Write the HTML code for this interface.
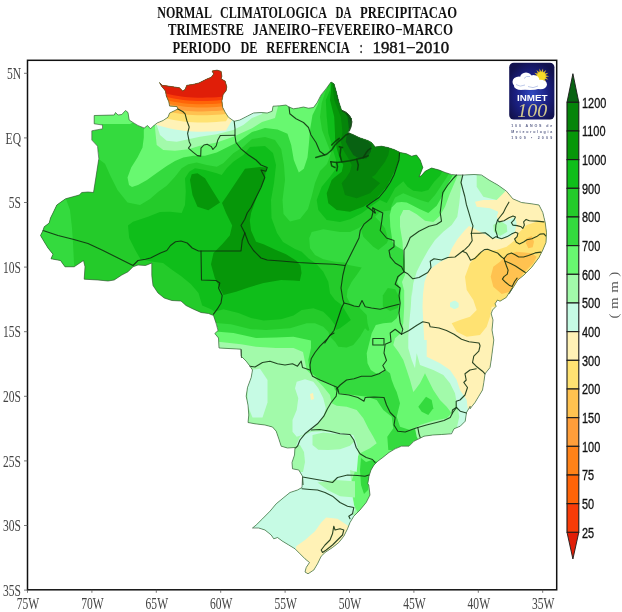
<!DOCTYPE html>
<html><head><meta charset="utf-8"><title>Normal Climatologica da Precipitacao</title>
<style>html,body{margin:0;padding:0;background:#fff;}body{width:622px;height:612px;overflow:hidden;font-family:"Liberation Sans",sans-serif;}svg{display:block;will-change:transform;opacity:0.999;}.t{font-family:"Liberation Serif",serif;font-weight:bold;fill:#111;}.ax{font-family:"Liberation Serif",serif;fill:#444;}.cb{font-family:"Liberation Sans",sans-serif;fill:#111;}</style></head><body>
<svg width="622" height="612" viewBox="0 0 622 612">
<rect width="622" height="612" fill="#fff"/>
<defs><clipPath id="br"><path d="M159.5,82.5 L162.2,85.3 L168.0,86.1 L174.5,87.0 L179.4,87.8 L182.7,91.0 L185.1,89.4 L186.8,85.3 L192.5,84.5 L199.0,82.9 L205.6,79.6 L211.3,77.2 L213.7,73.9 L212.1,71.1 L217.0,70.1 L221.1,71.4 L221.9,76.3 L221.1,78.8 L225.2,81.2 L226.8,87.0 L226.0,91.0 L223.2,94.3 L221.9,100.8 L222.7,107.4 L225.2,112.3 L228.4,117.2 L234.2,121.3 L239.8,120.0 L247.2,116.2 L253.5,113.0 L261.0,112.5 L267.2,113.0 L272.2,111.2 L273.0,106.2 L279.8,105.8 L286.0,105.0 L289.0,107.0 L293.5,108.8 L298.5,108.0 L303.5,107.0 L308.5,108.2 L313.5,107.5 L317.2,102.5 L321.0,95.0 L326.0,88.8 L331.0,82.0 L334.0,83.8 L336.5,92.5 L339.0,102.5 L341.5,110.0 L347.8,113.8 L351.5,118.8 L351.0,126.2 L347.8,132.5 L352.8,134.5 L359.0,137.5 L367.8,140.5 L371.5,142.5 L375.2,147.0 L381.5,146.2 L387.8,147.5 L394.0,149.5 L400.2,152.5 L406.5,153.8 L411.5,156.2 L416.5,155.0 L420.2,160.0 L422.8,167.5 L419.0,177.0 L421.5,175.5 L425.2,171.2 L431.5,168.0 L439.0,170.0 L445.2,172.5 L451.5,174.5 L456.5,175.0 L464.0,175.0 L474.0,174.5 L481.5,175.0 L489.0,180.0 L497.8,185.0 L506.5,191.2 L512.8,198.8 L521.5,202.5 L531.5,203.8 L539.0,205.0 L542.8,212.5 L545.2,222.5 L546.5,232.5 L546.0,242.5 L542.8,250.0 L539.0,257.5 L531.5,267.5 L524.0,275.0 L517.8,280.0 L514.0,286.2 L509.0,293.8 L512.5,287.5 L506.2,297.5 L500.0,301.2 L497.5,300.0 L495.0,303.8 L496.2,306.2 L492.5,310.0 L491.2,313.8 L493.0,320.0 L492.0,330.0 L493.8,340.0 L492.5,350.0 L491.2,360.0 L490.0,367.5 L485.0,373.8 L483.8,382.5 L482.5,390.0 L478.8,396.2 L475.0,402.5 L470.0,408.8 L470.2,406.2 L466.5,412.5 L465.2,421.2 L460.2,426.2 L454.0,428.8 L451.5,433.8 L441.5,434.5 L432.8,435.0 L424.0,436.2 L419.0,438.8 L414.0,441.2 L409.0,446.2 L401.5,446.2 L395.2,448.8 L389.0,452.5 L382.8,457.5 L377.8,461.2 L374.0,465.0 L371.0,470.0 L369.0,476.2 L367.8,483.8 L368.8,485.0 L370.0,495.0 L366.2,502.5 L360.0,510.0 L353.8,516.2 L350.0,522.5 L347.5,528.8 L343.8,536.2 L338.8,542.5 L332.5,547.5 L325.0,552.5 L321.2,556.2 L317.5,563.8 L313.8,570.0 L308.0,573.8 L305.0,572.0 L306.2,567.5 L309.5,562.5 L305.0,558.8 L300.0,553.8 L295.0,548.8 L288.8,545.0 L282.5,541.2 L277.5,537.5 L273.8,538.8 L271.2,535.0 L265.0,530.0 L258.8,528.0 L252.5,528.0 L256.2,525.0 L262.5,518.8 L270.0,511.2 L276.2,503.8 L283.8,497.5 L290.0,492.5 L297.5,490.0 L302.0,487.5 L302.5,477.5 L303.0,485.0 L302.5,476.2 L298.8,470.0 L292.5,468.8 L292.0,462.5 L294.5,455.0 L295.0,447.5 L287.5,448.0 L281.2,446.2 L278.8,438.8 L276.2,431.2 L272.5,427.0 L265.0,425.0 L255.0,423.8 L248.0,422.5 L248.8,415.0 L248.0,405.0 L246.2,396.2 L247.5,387.5 L251.2,377.5 L252.5,370.0 L250.0,366.2 L246.2,361.2 L241.2,356.2 L241.2,349.5 L241.5,358.0 L241.0,349.2 L219.0,348.0 L218.5,338.0 L214.8,333.5 L218.0,330.5 L216.0,323.0 L213.5,315.5 L208.5,313.5 L201.0,312.5 L193.5,309.2 L186.0,305.5 L181.0,301.0 L171.8,300.5 L164.2,298.0 L158.0,293.0 L153.0,285.5 L151.8,275.5 L151.8,263.0 L145.5,265.5 L138.0,265.0 L133.0,266.8 L128.0,271.8 L121.8,275.0 L114.2,280.0 L108.0,281.0 L98.0,280.0 L84.2,279.2 L85.0,266.8 L83.5,260.5 L74.2,266.8 L65.0,266.8 L60.5,260.5 L51.0,258.8 L53.0,254.2 L48.0,248.0 L44.2,241.8 L40.5,235.5 L43.0,230.5 L44.2,226.8 L49.2,223.0 L50.5,218.0 L53.0,213.0 L56.8,205.0 L65.5,198.8 L79.2,195.0 L81.8,192.5 L88.0,192.0 L93.5,192.5 L95.5,180.0 L98.8,158.8 L97.5,146.2 L91.8,140.0 L91.8,130.8 L102.5,128.8 L102.5,125.0 L94.2,123.8 L94.2,115.5 L114.2,115.0 L115.5,112.5 L118.0,115.0 L121.8,114.5 L125.5,110.5 L128.0,112.5 L129.2,120.0 L133.0,122.5 L138.0,125.5 L144.2,128.0 L147.5,125.5 L150.5,128.8 L153.0,126.2 L154.1,125.4 L157.3,122.9 L163.1,120.5 L168.0,117.2 L169.6,113.1 L174.5,110.7 L177.8,109.0 L177.0,106.6 L169.6,106.1 L168.8,101.7 L166.3,96.0 L165.5,91.0 L161.4,86.1Z"/></clipPath><radialGradient id="lg" cx="50%" cy="55%" r="60%"><stop offset="0" stop-color="#3048c0"/><stop offset="0.6" stop-color="#1a1f80"/><stop offset="1" stop-color="#12124e"/></radialGradient></defs>
<g clip-path="url(#br)">
<path d="M159.5,82.5 L162.2,85.3 L168.0,86.1 L174.5,87.0 L179.4,87.8 L182.7,91.0 L185.1,89.4 L186.8,85.3 L192.5,84.5 L199.0,82.9 L205.6,79.6 L211.3,77.2 L213.7,73.9 L212.1,71.1 L217.0,70.1 L221.1,71.4 L221.9,76.3 L221.1,78.8 L225.2,81.2 L226.8,87.0 L226.0,91.0 L223.2,94.3 L221.9,100.8 L222.7,107.4 L225.2,112.3 L228.4,117.2 L234.2,121.3 L239.8,120.0 L247.2,116.2 L253.5,113.0 L261.0,112.5 L267.2,113.0 L272.2,111.2 L273.0,106.2 L279.8,105.8 L286.0,105.0 L289.0,107.0 L293.5,108.8 L298.5,108.0 L303.5,107.0 L308.5,108.2 L313.5,107.5 L317.2,102.5 L321.0,95.0 L326.0,88.8 L331.0,82.0 L334.0,83.8 L336.5,92.5 L339.0,102.5 L341.5,110.0 L347.8,113.8 L351.5,118.8 L351.0,126.2 L347.8,132.5 L352.8,134.5 L359.0,137.5 L367.8,140.5 L371.5,142.5 L375.2,147.0 L381.5,146.2 L387.8,147.5 L394.0,149.5 L400.2,152.5 L406.5,153.8 L411.5,156.2 L416.5,155.0 L420.2,160.0 L422.8,167.5 L419.0,177.0 L421.5,175.5 L425.2,171.2 L431.5,168.0 L439.0,170.0 L445.2,172.5 L451.5,174.5 L456.5,175.0 L464.0,175.0 L474.0,174.5 L481.5,175.0 L489.0,180.0 L497.8,185.0 L506.5,191.2 L512.8,198.8 L521.5,202.5 L531.5,203.8 L539.0,205.0 L542.8,212.5 L545.2,222.5 L546.5,232.5 L546.0,242.5 L542.8,250.0 L539.0,257.5 L531.5,267.5 L524.0,275.0 L517.8,280.0 L514.0,286.2 L509.0,293.8 L512.5,287.5 L506.2,297.5 L500.0,301.2 L497.5,300.0 L495.0,303.8 L496.2,306.2 L492.5,310.0 L491.2,313.8 L493.0,320.0 L492.0,330.0 L493.8,340.0 L492.5,350.0 L491.2,360.0 L490.0,367.5 L485.0,373.8 L483.8,382.5 L482.5,390.0 L478.8,396.2 L475.0,402.5 L470.0,408.8 L470.2,406.2 L466.5,412.5 L465.2,421.2 L460.2,426.2 L454.0,428.8 L451.5,433.8 L441.5,434.5 L432.8,435.0 L424.0,436.2 L419.0,438.8 L414.0,441.2 L409.0,446.2 L401.5,446.2 L395.2,448.8 L389.0,452.5 L382.8,457.5 L377.8,461.2 L374.0,465.0 L371.0,470.0 L369.0,476.2 L367.8,483.8 L368.8,485.0 L370.0,495.0 L366.2,502.5 L360.0,510.0 L353.8,516.2 L350.0,522.5 L347.5,528.8 L343.8,536.2 L338.8,542.5 L332.5,547.5 L325.0,552.5 L321.2,556.2 L317.5,563.8 L313.8,570.0 L308.0,573.8 L305.0,572.0 L306.2,567.5 L309.5,562.5 L305.0,558.8 L300.0,553.8 L295.0,548.8 L288.8,545.0 L282.5,541.2 L277.5,537.5 L273.8,538.8 L271.2,535.0 L265.0,530.0 L258.8,528.0 L252.5,528.0 L256.2,525.0 L262.5,518.8 L270.0,511.2 L276.2,503.8 L283.8,497.5 L290.0,492.5 L297.5,490.0 L302.0,487.5 L302.5,477.5 L303.0,485.0 L302.5,476.2 L298.8,470.0 L292.5,468.8 L292.0,462.5 L294.5,455.0 L295.0,447.5 L287.5,448.0 L281.2,446.2 L278.8,438.8 L276.2,431.2 L272.5,427.0 L265.0,425.0 L255.0,423.8 L248.0,422.5 L248.8,415.0 L248.0,405.0 L246.2,396.2 L247.5,387.5 L251.2,377.5 L252.5,370.0 L250.0,366.2 L246.2,361.2 L241.2,356.2 L241.2,349.5 L241.5,358.0 L241.0,349.2 L219.0,348.0 L218.5,338.0 L214.8,333.5 L218.0,330.5 L216.0,323.0 L213.5,315.5 L208.5,313.5 L201.0,312.5 L193.5,309.2 L186.0,305.5 L181.0,301.0 L171.8,300.5 L164.2,298.0 L158.0,293.0 L153.0,285.5 L151.8,275.5 L151.8,263.0 L145.5,265.5 L138.0,265.0 L133.0,266.8 L128.0,271.8 L121.8,275.0 L114.2,280.0 L108.0,281.0 L98.0,280.0 L84.2,279.2 L85.0,266.8 L83.5,260.5 L74.2,266.8 L65.0,266.8 L60.5,260.5 L51.0,258.8 L53.0,254.2 L48.0,248.0 L44.2,241.8 L40.5,235.5 L43.0,230.5 L44.2,226.8 L49.2,223.0 L50.5,218.0 L53.0,213.0 L56.8,205.0 L65.5,198.8 L79.2,195.0 L81.8,192.5 L88.0,192.0 L93.5,192.5 L95.5,180.0 L98.8,158.8 L97.5,146.2 L91.8,140.0 L91.8,130.8 L102.5,128.8 L102.5,125.0 L94.2,123.8 L94.2,115.5 L114.2,115.0 L115.5,112.5 L118.0,115.0 L121.8,114.5 L125.5,110.5 L128.0,112.5 L129.2,120.0 L133.0,122.5 L138.0,125.5 L144.2,128.0 L147.5,125.5 L150.5,128.8 L153.0,126.2 L154.1,125.4 L157.3,122.9 L163.1,120.5 L168.0,117.2 L169.6,113.1 L174.5,110.7 L177.8,109.0 L177.0,106.6 L169.6,106.1 L168.8,101.7 L166.3,96.0 L165.5,91.0 L161.4,86.1Z" fill="#34da3e"/>
<path d="M80.0,160.0 L91.0,160.0 L100.0,160.0 L105.0,163.8 L110.0,175.0 L117.5,190.0 L127.5,202.5 L140.0,205.0 L150.0,199.0 L158.3,191.7 L166.7,185.8 L175.0,176.7 L181.7,168.3 L188.3,164.2 L196.7,162.5 L206.7,165.0 L216.7,166.7 L223.3,163.3 L233.3,153.3 L243.3,146.7 L252.0,139.0 L265.0,137.0 L275.0,140.0 L281.2,149.0 L284.0,165.0 L285.0,180.0 L282.5,200.0 L283.5,214.0 L290.0,221.5 L300.0,219.0 L308.0,209.0 L312.0,195.0 L315.0,183.0 L320.0,171.0 L327.0,164.0 L331.0,153.0 L327.0,143.0 L322.0,130.0 L320.0,117.0 L321.7,103.0 L325.0,93.0 L328.3,85.0 L331.0,78.0 L345.0,75.0 L365.0,120.0 L400.0,140.0 L430.0,160.0 L449.2,168.0 L449.2,173.3 L446.7,177.5 L441.7,185.0 L435.0,195.0 L428.3,202.5 L420.0,200.0 L411.7,196.7 L403.3,193.3 L395.0,197.5 L391.7,205.0 L389.7,213.3 L390.0,226.7 L392.5,242.0 L393.0,250.0 L396.0,262.0 L399.0,275.0 L396.0,285.0 L398.0,300.0 L392.0,312.0 L380.0,320.0 L372.0,328.0 L368.0,331.0 L365.0,328.3 L360.0,336.7 L353.3,345.0 L346.7,347.5 L338.3,346.7 L335.0,341.7 L330.0,336.7 L328.3,331.7 L323.3,326.7 L315.0,323.3 L306.7,323.3 L298.3,325.8 L290.0,328.3 L286.0,328.5 L266.0,330.0 L251.0,329.2 L231.0,324.2 L216.0,323.0 L205.0,320.0 L175.0,310.0 L140.0,300.0 L150.0,285.0 L140.0,270.0 L100.0,290.0 L60.0,275.0 L30.0,240.0 L30.0,200.0 L60.0,190.0 L80.0,185.0Z" fill="#24cb2a"/>
<path d="M30.0,200.0 L66.0,199.0 L70.0,210.0 L72.0,228.0 L73.0,243.0 L74.2,267.0 L74.0,275.0 L30.0,275.0Z" fill="#34da3e"/>
<path d="M311.7,232.0 L323.3,229.3 L340.0,232.0 L350.0,232.0 L358.3,228.3 L363.3,225.0 L361.0,230.0 L363.3,236.7 L368.3,241.7 L373.3,246.7 L378.3,250.0 L386.7,243.3 L388.3,240.0 L385.0,228.3 L380.0,221.7 L375.0,216.7 L380.0,212.0 L392.0,210.0 L400.0,245.0 L406.0,260.0 L404.0,302.0 L398.0,310.0 L391.5,315.0 L380.0,322.0 L374.0,327.0 L370.0,332.0 L367.5,323.3 L366.7,315.0 L360.0,308.3 L350.0,303.3 L346.7,296.7 L347.5,290.0 L351.7,281.7 L356.7,275.0 L361.7,267.5 L348.3,265.0 L345.0,262.5 L335.0,261.7 L323.3,259.2 L315.0,255.0 L310.0,248.3 L309.2,238.3Z" fill="#34da3e"/>
<path d="M382.8,295.5 L387.8,288.0 L395.2,289.2 L399.5,298.0 L397.8,308.0 L390.2,311.0 L382.8,306.8Z" fill="#24cb2a"/>
<path d="M128.0,225.5 L133.0,221.8 L148.0,216.8 L160.0,212.0 L170.0,211.7 L181.7,213.0 L185.0,205.0 L185.8,191.7 L185.0,178.3 L189.2,171.7 L195.0,168.3 L205.0,170.0 L216.7,173.3 L221.7,175.0 L226.7,168.3 L233.3,161.7 L243.3,155.0 L250.0,147.0 L265.0,146.0 L273.0,153.0 L276.0,165.0 L274.0,183.0 L271.0,200.0 L271.5,218.0 L277.0,233.0 L283.0,242.0 L295.0,249.0 L301.7,251.7 L308.3,258.3 L316.7,264.2 L323.3,271.7 L328.3,281.7 L330.0,293.3 L335.0,300.0 L341.7,305.0 L346.7,313.3 L350.8,320.0 L346.7,323.3 L340.0,328.3 L335.8,330.0 L335.0,325.0 L330.0,318.3 L323.3,311.7 L313.3,308.3 L301.7,310.0 L293.5,315.5 L281.0,319.2 L263.5,320.5 L251.0,318.0 L238.5,313.0 L223.5,309.2 L214.8,311.8 L211.0,309.2 L202.2,305.5 L198.5,293.0 L191.0,284.2 L181.0,276.0 L173.0,270.5 L163.0,263.0 L153.0,261.8 L140.5,259.2 L135.5,250.5 L129.2,238.0Z" fill="#0fbe1a"/>
<path d="M331.0,78.0 L330.0,90.0 L325.8,100.0 L326.7,116.7 L328.3,133.3 L331.0,142.0 L333.0,150.0 L336.0,160.0 L335.0,170.0 L330.0,176.7 L321.7,186.7 L316.7,200.0 L318.3,210.0 L326.7,220.0 L340.0,222.0 L350.0,219.2 L361.7,213.3 L371.7,205.8 L380.0,200.0 L386.7,203.0 L390.0,197.5 L395.0,188.3 L403.3,181.3 L407.5,186.7 L413.3,190.8 L421.7,191.7 L428.3,190.0 L434.2,181.7 L440.0,175.8 L444.2,168.0 L430.0,150.0 L380.0,120.0 L350.0,75.0Z" fill="#0fbe1a"/>
<path d="M191.7,174.2 L197.5,173.3 L205.0,178.3 L211.7,189.2 L220.0,202.5 L208.3,210.3 L197.5,206.7 L192.5,195.0 L190.0,180.0Z" fill="#069709"/>
<path d="M245.0,168.8 L260.0,167.0 L266.2,167.5 L265.0,177.5 L257.5,195.0 L251.2,212.5 L249.8,220.5 L251.0,230.5 L256.0,241.8 L263.5,244.2 L276.0,250.0 L286.0,254.2 L296.0,260.5 L300.5,265.5 L301.5,273.0 L299.8,281.0 L293.5,280.5 L281.0,280.0 L263.5,283.0 L248.5,287.5 L236.0,291.8 L223.5,295.0 L219.8,288.0 L214.8,278.0 L211.0,264.2 L213.5,253.0 L222.2,244.2 L229.8,235.5 L232.2,225.5 L226.0,213.0 L222.0,203.0 L227.5,195.0 L237.5,180.0Z" fill="#069709"/>
<path d="M331.5,78.0 L331.0,90.0 L330.0,100.0 L334.2,116.7 L335.0,133.3 L335.0,138.3 L336.7,148.3 L339.2,156.7 L343.3,165.0 L341.7,171.7 L335.0,177.0 L331.7,180.0 L326.7,193.3 L328.3,203.3 L336.7,210.0 L350.0,211.7 L363.3,206.7 L376.7,198.3 L386.7,186.7 L391.7,177.0 L395.0,170.0 L398.3,161.7 L400.8,150.0 L380.0,125.0 L350.0,75.0Z" fill="#069709"/>
<path d="M332.0,78.0 L334.2,100.0 L340.8,116.7 L342.5,131.7 L340.8,141.7 L343.3,150.0 L348.3,158.3 L351.7,165.0 L350.0,171.7 L346.7,177.0 L341.7,183.3 L345.0,195.0 L356.7,198.3 L370.0,193.3 L380.0,183.3 L371.7,177.0 L375.0,175.0 L380.0,168.3 L385.0,161.7 L388.3,155.0 L390.0,146.0 L370.0,125.0 L350.0,75.0Z" fill="#05840a"/>
<path d="M349.2,132.5 L355.0,135.0 L361.7,139.2 L367.5,140.8 L371.7,145.0 L370.8,151.7 L366.7,158.3 L360.0,159.2 L353.3,155.0 L349.2,148.3 L345.8,141.7 L346.7,135.0Z" fill="#086212"/>
<path d="M333.0,78.0 L337.5,100.0 L347.5,116.7 L349.2,131.0 L353.0,134.0 L356.0,125.0 L350.0,75.0Z" fill="#086212"/>
<path d="M452.5,175.8 L448.3,183.3 L443.3,194.2 L436.7,205.8 L428.3,213.0 L420.0,209.2 L411.7,205.0 L406.7,202.5 L401.7,202.0 L396.7,202.5 L391.7,207.5 L389.7,215.0 L390.3,226.7 L392.5,242.0 L396.0,246.0 L403.0,250.0 L404.0,260.0 L404.0,270.0 L400.0,275.0 L397.0,282.0 L401.0,290.0 L400.8,290.0 L400.0,303.3 L399.2,311.7 L396.7,318.3 L391.7,322.5 L383.3,323.3 L375.8,325.0 L371.7,333.3 L369.2,343.3 L366.7,353.3 L367.5,363.3 L370.8,370.0 L375.8,373.3 L381.7,373.3 L385.8,370.0 L390.0,373.3 L391.7,380.0 L394.2,386.7 L396.7,392.0 L400.0,403.3 L396.7,416.7 L400.0,426.7 L410.0,430.0 L418.3,428.3 L420.0,440.0 L430.0,460.0 L560.0,460.0 L560.0,150.0 L452.0,150.0Z" fill="#68f870"/>
<path d="M388.3,450.0 L387.3,436.7 L393.3,428.3 L391.7,416.7 L383.3,410.0 L376.7,400.0 L366.7,396.7 L353.3,395.0 L340.0,393.3 L335.0,390.0 L333.3,385.0 L320.0,380.0 L310.0,371.7 L308.3,360.0 L311.0,348.0 L311.0,340.5 L293.5,336.8 L276.0,337.5 L256.0,338.0 L233.5,333.0 L218.5,331.8 L200.0,331.0 L200.0,600.0 L400.0,600.0 L400.0,450.0Z" fill="#68f870"/>
<path d="M145.0,60.0 L145.0,126.0 L143.8,130.0 L143.8,137.5 L142.5,147.5 L137.5,157.5 L131.2,167.5 L127.5,177.5 L129.0,185.0 L132.0,187.0 L138.0,185.0 L147.0,180.0 L156.7,173.0 L166.7,166.0 L175.0,161.0 L183.3,157.5 L193.3,155.8 L205.0,155.8 L216.7,152.5 L228.3,146.7 L238.3,141.7 L252.0,132.0 L265.0,128.0 L277.5,129.5 L287.5,133.8 L291.2,145.0 L293.8,160.0 L298.8,172.5 L303.8,168.8 L307.5,157.5 L308.8,145.0 L310.0,130.0 L312.5,115.0 L317.5,105.0 L320.0,98.0 L322.0,60.0Z" fill="#68f870"/>
<path d="M88.0,110.0 L136.0,110.0 L136.0,121.0 L130.0,124.0 L95.0,124.0 L88.0,124.0Z" fill="#68f870"/>
<path d="M361.0,458.0 L366.0,462.0 L372.0,460.0 L378.0,462.0 L372.0,470.0 L369.0,480.0 L368.0,490.0 L364.0,494.0 L361.0,485.0 L360.0,470.0Z" fill="#34da3e"/>
<path d="M418.3,406.7 L426.0,396.7 L431.7,400.0 L433.3,408.3 L428.3,415.0 L421.7,411.7Z" fill="#34da3e"/>
<path d="M457.5,175.8 L455.0,181.7 L450.0,193.3 L445.0,206.7 L440.0,215.8 L433.3,222.0 L425.0,220.8 L416.7,214.2 L409.2,210.0 L403.3,210.0 L400.0,216.7 L400.0,226.7 L402.5,242.0 L403.0,250.0 L405.0,262.0 L405.0,275.0 L402.0,282.0 L404.0,290.0 L404.2,290.0 L404.2,306.7 L403.3,323.3 L400.8,333.3 L395.0,338.3 L393.3,345.0 L398.3,351.7 L403.3,360.0 L406.7,370.0 L410.0,380.0 L413.3,392.0 L415.0,390.0 L420.0,383.3 L425.0,373.3 L428.3,380.0 L433.3,390.0 L440.0,400.0 L446.7,406.7 L451.7,413.3 L446.7,418.3 L433.3,420.7 L420.0,425.0 L415.0,428.3 L416.7,436.7 L430.0,460.0 L560.0,460.0 L560.0,150.0 L457.0,150.0Z" fill="#a2faaa"/>
<path d="M306.7,370.0 L315.0,378.3 L323.3,386.7 L330.0,395.0 L331.7,403.3 L336.7,405.8 L346.7,406.7 L356.7,410.0 L363.3,418.3 L368.3,428.3 L373.3,436.7 L376.7,443.3 L370.0,448.3 L360.0,453.3 L355.8,460.0 L354.7,472.0 L352.0,480.0 L352.0,490.0 L354.0,505.0 L358.0,513.0 L380.0,520.0 L380.0,600.0 L200.0,600.0 L200.0,341.8 L218.5,341.8 L241.0,344.2 L256.0,346.8 L276.0,348.0 L293.5,348.0 L303.0,352.0Z" fill="#a2faaa"/>
<path d="M155.0,118.3 L155.0,128.3 L156.7,145.0 L163.3,150.0 L175.0,150.8 L188.3,149.2 L200.0,145.8 L216.7,142.5 L233.3,136.7 L252.0,128.3 L262.0,122.0 L275.0,118.0 L290.0,60.0 L150.0,60.0Z" fill="#a2faaa"/>
<path d="M461.7,173.3 L461.7,176.0 L460.7,190.0 L459.3,203.3 L457.3,216.7 L451.7,225.0 L443.3,231.7 L435.0,240.0 L428.3,250.0 L421.7,261.7 L416.7,271.7 L413.3,283.3 L411.7,296.7 L411.7,290.0 L410.8,306.7 L409.2,323.3 L408.3,336.7 L408.3,348.3 L411.7,360.0 L415.0,368.3 L416.7,353.3 L420.0,365.0 L433.3,370.0 L443.3,375.0 L450.0,383.3 L455.0,393.3 L456.7,403.3 L459.3,416.7 L456.7,428.3 L450.0,433.3 L446.7,440.0 L470.0,460.0 L560.0,460.0 L560.0,150.0Z" fill="#c6fbe4"/>
<path d="M296.7,381.7 L305.0,379.2 L313.3,381.7 L318.3,388.3 L323.3,398.3 L325.8,408.3 L323.3,416.7 L316.7,425.0 L311.7,430.0 L305.0,434.2 L296.7,436.7 L292.5,431.7 L292.5,420.0 L296.7,410.0 L298.3,398.3 L295.0,388.3Z" fill="#c6fbe4"/>
<path d="M250.0,370.0 L260.0,368.8 L267.5,380.0 L267.5,402.5 L262.5,417.5 L252.5,417.5 L247.5,405.0 L247.5,387.5Z" fill="#c6fbe4"/>
<path d="M300.0,436.7 L311.7,431.7 L323.3,431.3 L340.0,433.0 L353.3,435.0 L356.7,443.3 L358.3,453.3 L357.5,463.3 L356.7,472.0 L350.0,470.0 L351.2,482.5 L352.5,497.5 L355.0,510.0 L352.5,515.0 L380.0,522.5 L380.0,590.0 L230.0,590.0 L230.0,465.0 L287.5,465.0Z" fill="#c6fbe4"/>
<path d="M156.7,118.3 L156.7,125.0 L160.0,135.0 L166.7,140.8 L176.7,141.7 L188.3,139.2 L200.0,136.7 L216.7,134.2 L233.3,130.0 L243.3,125.0 L252.0,118.0 L262.0,114.0 L275.0,60.0 L150.0,60.0Z" fill="#c6fbe4"/>
<path d="M476.7,175.0 L490.0,176.7 L503.3,186.7 L506.7,196.7 L496.7,200.0 L483.3,196.7 L476.7,186.7Z" fill="#a2faaa"/>
<path d="M493.3,225.0 L500.0,220.7 L506.7,225.0 L507.3,231.7 L500.0,236.0 L494.0,231.7Z" fill="#a2faaa"/>
<path d="M312.5,435.0 L323.3,432.5 L340.0,434.2 L351.7,435.8 L354.2,441.7 L350.0,445.8 L340.0,449.2 L328.3,450.0 L318.3,449.7 L312.5,445.0Z" fill="#a2faaa"/>
<path d="M317.5,482.5 L335.0,480.0 L355.0,481.2 L355.0,497.5 L340.0,496.2 L327.5,490.0Z" fill="#a2faaa"/>
<path d="M289.0,446.0 L300.0,445.0 L304.0,452.0 L305.0,462.0 L303.0,472.0 L290.0,472.0Z" fill="#a2faaa"/>
<path d="M506.7,190.0 L496.7,200.0 L483.3,200.0 L475.0,201.7 L476.7,206.7 L490.0,208.3 L498.3,211.7 L496.7,216.7 L500.0,221.7 L508.3,220.0 L515.0,216.7 L516.7,223.3 L515.0,231.7 L510.0,236.7 L500.0,239.3 L490.0,237.3 L483.3,233.3 L478.3,231.0 L475.0,229.0 L469.0,226.0 L465.0,230.0 L457.5,239.0 L452.0,248.0 L448.0,258.0 L440.0,262.0 L433.0,267.0 L428.0,272.0 L424.5,282.0 L423.0,294.0 L422.5,306.7 L423.3,323.3 L424.2,340.0 L426.7,340.0 L426.7,356.7 L440.0,363.3 L450.0,370.0 L456.7,380.0 L460.0,390.0 L466.7,400.0 L468.3,413.3 L465.0,423.3 L463.3,430.0 L480.0,440.0 L560.0,440.0 L560.0,170.0Z" fill="#fff2b6"/>
<path d="M296.2,546.2 L305.0,540.0 L315.0,531.2 L321.2,522.5 L326.2,517.5 L337.5,518.8 L348.8,526.2 L360.0,522.5 L360.0,590.0 L292.5,590.0Z" fill="#fff2b6"/>
<path d="M310.0,394.0 L313.0,393.0 L314.0,399.0 L311.0,400.0Z" fill="#fff2b6"/>
<path d="M150.0,60.0 L150.0,122.7 L150.0,122.7 L154.8,124.3 L159.5,125.8 L164.2,127.1 L169.0,128.2 L173.8,129.2 L178.5,130.0 L183.2,130.7 L188.0,131.2 L192.8,131.5 L197.5,131.7 L202.2,131.7 L207.0,131.6 L211.8,131.4 L216.5,131.2 L221.2,130.8 L226.0,130.4 L230.8,122.2 L235.5,114.0 L240.2,105.7 L245.0,97.3 L245.0,60.0Z" fill="#fff2b6"/>
<path d="M451.5,302.0 L455.0,300.5 L458.5,303.0 L458.5,307.0 L455.0,309.0 L451.5,307.0Z" fill="#c6fbe4"/>
<path d="M450.0,302.7 L454.0,301.0 L458.3,303.3 L458.3,307.3 L454.0,309.0 L450.0,306.7Z" fill="#c6fbe4"/>
<path d="M150.0,60.0 L150.0,113.5 L150.0,113.5 L154.8,115.1 L159.5,116.6 L164.2,117.9 L169.0,119.0 L173.8,120.0 L178.5,120.8 L183.2,121.5 L188.0,122.0 L192.8,122.3 L197.5,122.5 L202.2,122.5 L207.0,122.4 L211.8,122.2 L216.5,122.0 L221.2,121.6 L226.0,121.2 L230.8,113.0 L235.5,104.8 L240.2,96.5 L245.0,88.1 L245.0,60.0Z" fill="#ffe272"/>
<path d="M563.3,221.7 L546.7,221.7 L536.7,221.7 L526.7,225.0 L518.3,233.3 L515.0,240.0 L506.7,246.7 L496.7,250.0 L486.7,250.0 L478.3,253.3 L470.0,263.3 L465.0,276.7 L466.7,290.0 L473.3,300.0 L476.7,310.0 L470.0,316.7 L460.0,320.0 L451.7,323.3 L456.7,331.7 L466.7,336.7 L480.0,335.0 L486.7,326.7 L490.0,316.7 L491.7,306.7 L563.3,306.7Z" fill="#ffe272"/>
<path d="M150.0,60.0 L150.0,106.3 L150.0,106.3 L154.8,107.9 L159.5,109.4 L164.2,110.7 L169.0,111.8 L173.8,112.8 L178.5,113.6 L183.2,114.3 L188.0,114.8 L192.8,115.1 L197.5,115.3 L202.2,115.3 L207.0,115.2 L211.8,115.0 L216.5,114.8 L221.2,114.4 L226.0,114.0 L230.8,105.8 L235.5,97.6 L240.2,89.3 L245.0,80.9 L245.0,60.0Z" fill="#ffc250"/>
<path d="M506.7,255.0 L516.7,251.7 L531.7,253.3 L536.7,256.7 L533.3,263.3 L523.3,273.3 L516.7,283.3 L510.0,291.7 L501.7,294.0 L493.3,286.7 L490.7,276.7 L493.3,266.7 L500.0,261.7Z" fill="#ffc250"/>
<path d="M526.7,238.3 L531.7,236.0 L534.0,241.7 L532.7,247.3 L528.3,248.3 L526.0,243.3Z" fill="#ffc250"/>
<path d="M150.0,60.0 L150.0,102.4 L150.0,102.4 L154.8,104.0 L159.5,105.5 L164.2,106.8 L169.0,107.9 L173.8,108.9 L178.5,109.7 L183.2,110.4 L188.0,110.9 L192.8,111.2 L197.5,111.4 L202.2,111.4 L207.0,111.3 L211.8,111.1 L216.5,110.9 L221.2,110.5 L226.0,110.1 L230.8,101.9 L235.5,93.7 L240.2,85.4 L245.0,77.0 L245.0,60.0Z" fill="#ff9e3a"/>
<path d="M150.0,60.0 L150.0,98.5 L150.0,98.5 L154.8,100.1 L159.5,101.6 L164.2,102.9 L169.0,104.0 L173.8,105.0 L178.5,105.8 L183.2,106.5 L188.0,107.0 L192.8,107.3 L197.5,107.5 L202.2,107.5 L207.0,107.4 L211.8,107.2 L216.5,107.0 L221.2,106.6 L226.0,106.2 L230.8,98.0 L235.5,89.8 L240.2,81.5 L245.0,73.1 L245.0,60.0Z" fill="#ff8218"/>
<path d="M150.0,60.0 L150.0,95.2 L150.0,95.2 L154.8,96.8 L159.5,98.3 L164.2,99.6 L169.0,100.7 L173.8,101.7 L178.5,102.5 L183.2,103.2 L188.0,103.7 L192.8,104.0 L197.5,104.2 L202.2,104.2 L207.0,104.1 L211.8,103.9 L216.5,103.7 L221.2,103.3 L226.0,102.9 L230.8,94.7 L235.5,86.5 L240.2,78.2 L245.0,69.8 L245.0,60.0Z" fill="#ff6408"/>
<path d="M150.0,60.0 L150.0,92.0 L150.0,92.0 L154.8,93.6 L159.5,95.1 L164.2,96.4 L169.0,97.5 L173.8,98.5 L178.5,99.3 L183.2,100.0 L188.0,100.5 L192.8,100.8 L197.5,101.0 L202.2,101.0 L207.0,100.9 L211.8,100.7 L216.5,100.5 L221.2,100.1 L226.0,99.7 L230.8,91.5 L235.5,83.3 L240.2,75.0 L245.0,66.6 L245.0,60.0Z" fill="#f83c08"/>
<path d="M150.0,60.0 L150.0,88.7 L150.0,88.7 L154.8,90.3 L159.5,91.8 L164.2,93.1 L169.0,94.2 L173.8,95.2 L178.5,96.0 L183.2,96.7 L188.0,97.2 L192.8,97.5 L197.5,97.7 L202.2,97.7 L207.0,97.6 L211.8,97.4 L216.5,97.2 L221.2,96.8 L226.0,96.4 L230.8,88.2 L235.5,80.0 L240.2,71.7 L245.0,63.3 L245.0,60.0Z" fill="#e01e08"/>
</g>
<g fill="none" stroke="#0f2d0f" stroke-width="1.1" stroke-linejoin="round" stroke-linecap="round" stroke-opacity="0.88">
<path d="M177.8,109.0 L182.7,111.5 L185.1,113.9 L186.8,120.5 L189.2,127.0 L187.6,133.5 L189.2,141.7 L190.8,145.0 L188.4,148.2 L193.3,152.3 L197.4,155.6 L200.7,156.1 L201.0,148.2 L203.9,145.0 L207.2,144.2 L211.3,146.6 L212.9,149.5 L216.2,145.8 L217.8,140.1 L220.3,135.5 L235.0,135.2"/>
<path d="M234.2,121.3 L235.0,128.6 L235.0,135.2 L234.8,135.0 L236.0,142.5 L241.0,148.8 L248.5,155.0 L256.0,160.0 L261.0,165.0 L267.2,167.5 L266.0,171.2 L261.0,170.0 L264.8,177.5 L261.0,187.5 L256.0,197.5 L251.0,207.5 L247.2,213.0 L247.2,213.0 L244.8,219.2 L241.0,225.5 L244.8,233.0"/>
<path d="M244.8,233.0 L242.2,240.5 L241.0,251.0 L201.0,251.0 L198.5,251.0 L192.2,248.0 L187.2,243.0 L181.0,241.0 L175.5,241.8 L170.5,245.5 L166.8,250.5 L160.5,253.0 L155.5,255.5 L150.5,258.0 L145.5,259.2 L138.0,260.5 L133.0,265.5 L118.0,258.0 L103.0,250.5 L88.0,243.5 L73.0,239.2 L58.0,235.5 L43.0,230.5"/>
<path d="M244.8,233.0 L248.5,243.0 L253.5,250.5 L261.0,258.0 L267.2,260.0 L281.0,261.0 L298.5,262.5 L316.0,263.5 L334.0,264.2 L345.2,265.5"/>
<path d="M201.0,251.0 L201.5,280.0 L216.0,280.5 L219.8,283.0 L218.5,288.0 L222.2,295.5 L221.0,303.0 L217.2,309.2 L213.5,314.2"/>
<path d="M289.0,107.0 L289.8,113.8 L296.0,118.8 L303.5,122.5 L308.5,127.5 L311.0,135.0 L316.0,142.5 L319.8,151.2 L324.8,155.0"/>
<path d="M399.5,153.0 L399.0,160.0 L396.5,167.5 L394.0,175.0 L390.2,182.5 L385.2,190.0 L379.0,197.5 L371.5,202.5 L366.5,206.2 L371.5,210.0 L375.2,213.0"/>
<path d="M456.5,175.0 L452.8,178.8 L447.8,185.0 L442.8,192.5 L441.5,202.5 L440.2,212.5 L441.5,221.2 L436.5,224.5 L429.0,226.2 L419.0,231.2 L410.2,237.5 L406.5,246.2 L404.0,250.0 L404.0,271.8"/>
<path d="M462.8,175.0 L461.0,182.5 L463.0,190.0 L464.8,196.5 L466.4,204.7 L468.9,212.9 L471.3,221.1 L473.0,225.9 L471.3,233.3"/>
<path d="M471.3,233.3 L479.5,233.3 L485.2,232.8 L489.3,235.8 L492.6,238.7 L495.9,236.6 L497.8,237.4 L501.6,238.7 L507.3,236.6 L511.4,234.1 L515.5,232.2 L517.9,233.3 L517.1,236.6 L514.6,239.0 L516.3,242.3 L519.5,243.9 L523.6,242.0 L526.9,239.8 L531.8,238.7 L536.7,236.6 L540.0,234.1 L544.0,233.8 L545.7,235.8"/>
<path d="M508.9,202.2 L505.6,208.0 L503.2,212.9 L499.9,217.0 L497.5,220.2 L499.1,221.9 L504.0,220.7 L508.9,217.8 L513.0,216.1 L515.5,217.0 L513.8,220.2 L511.4,222.7 L513.0,225.1 L517.1,225.6 L521.2,226.8 L522.8,228.4 L524.4,225.1 L523.6,221.9 L526.1,219.4 L529.4,220.7 L536.7,221.1 L544.0,221.9"/>
<path d="M497.5,220.2 L495.9,225.1 L495.5,230.0 L497.8,237.4"/>
<path d="M471.3,233.3 L472.2,240.7 L468.9,245.6 L464.8,249.6 L462.4,251.3 L458.3,254.5 L455.0,257.0 L447.8,257.5 L441.5,260.0 L434.0,258.8 L430.2,261.2 L431.0,267.5 L427.8,272.5 L419.0,277.5 L412.8,278.8 L407.8,273.8 L404.0,271.8"/>
<path d="M462.4,251.3 L466.4,252.9 L468.9,257.0 L470.5,260.3 L474.6,258.6 L477.9,255.4 L481.1,252.1 L484.4,249.6 L487.7,249.2 L492.6,251.3 L497.5,252.9 L499.1,254.5 L501.6,257.0 L504.0,258.6"/>
<path d="M504.0,258.6 L507.3,254.5 L511.4,252.9 L514.6,254.5 L518.7,257.0 L523.6,257.0 L528.5,255.4 L535.1,252.9 L540.8,252.1"/>
<path d="M504.0,258.6 L504.8,261.1 L510.6,263.5 L515.5,266.0 L520.4,269.2 L525.3,272.5"/>
<path d="M504.8,261.1 L506.5,266.0 L508.1,270.1 L507.3,274.1 L504.0,276.6 L502.4,279.1 L505.6,282.3 L509.7,285.6 L512.2,286.4 L514.6,281.5 L517.1,278.2"/>
<path d="M372.8,208.0 L372.8,213.0 L371.5,218.0 L364.0,224.2 L360.2,230.5 L359.0,238.0 L354.0,248.0 L349.0,258.0 L345.2,265.5 L342.8,275.5 L341.0,288.0 L342.8,299.2 L344.0,303.0 L341.5,308.0 L339.0,315.5 L336.5,323.0 L334.0,330.5 L326.2,340.0 L320.0,346.2 L315.0,352.5 L311.2,358.8 L310.0,365.0 L310.5,371.2 L312.5,376.2 L320.0,380.0 L328.8,383.8 L337.5,387.5"/>
<path d="M375.2,213.0 L374.0,208.8 L372.8,208.0"/>
<path d="M372.8,208.0 L382.8,213.0 L381.5,223.0 L380.2,230.5 L386.5,238.0 L394.0,240.5 L394.0,246.8 L389.0,250.5 L390.2,256.8 L395.2,263.0 L401.5,266.8 L404.0,271.8 L397.8,276.8 L395.2,284.2 L400.2,288.0 L399.0,295.5 L400.2,303.0 L399.0,313.0 L400.2,323.0 L402.8,329.2 L401.5,334.2"/>
<path d="M344.0,303.0 L349.0,304.2 L354.0,306.0 L359.0,306.8 L362.0,300.5 L365.2,306.8 L371.5,308.0 L380.2,309.2 L389.0,306.8 L399.0,304.2"/>
<path d="M401.5,334.2 L409.0,330.5 L416.5,325.5 L422.8,321.8 L429.0,323.0 L430.2,326.8 L439.0,328.0 L446.5,330.5 L454.0,334.2 L461.5,339.2 L469.0,341.8 L479.0,343.0 L480.0,345.5"/>
<path d="M372.8,338.5 L384.0,338.5 L384.0,345.0 L372.8,345.0 L372.8,338.5"/>
<path d="M401.5,334.2 L395.2,329.2 L390.2,333.0 L391.0,341.8 L385.2,344.2 L384.0,353.0 L386.5,360.5 L382.8,365.5 L385.2,370.0 L379.0,373.8 L371.5,376.2 L361.5,376.2 L354.0,378.8 L346.5,380.0 L340.2,385.0 L336.5,388.8 L337.5,387.5"/>
<path d="M250.0,366.2 L255.0,367.0 L262.5,362.5 L270.0,361.2 L277.5,363.8 L285.0,365.0 L292.5,363.8 L297.5,366.2 L301.2,361.2 L302.5,367.5 L310.0,370.0"/>
<path d="M334.0,333.0 L329.8,335.5 L324.8,343.0"/>
<path d="M337.8,388.8 L339.0,393.8 L349.0,395.0 L357.8,397.5 L364.0,401.2 L365.2,397.5 L374.0,397.0 L384.0,397.5 L386.5,405.0 L390.2,412.5 L395.2,417.5 L394.0,425.0 L397.8,431.2 L405.2,432.0 L414.0,428.8 L417.8,427.5 L426.5,425.0 L436.5,422.5 L444.0,420.5 L450.2,417.5 L452.8,412.5 L456.5,407.5"/>
<path d="M456.5,407.5 L460.2,411.2 L466.5,413.0"/>
<path d="M417.8,427.5 L419.0,433.8 L420.2,437.5"/>
<path d="M480.0,346.2 L478.8,351.2 L473.8,356.2 L472.5,362.5 L476.2,366.2 L482.5,371.2 L485.0,373.8"/>
<path d="M476.2,368.8 L470.0,370.0 L465.0,373.8 L466.2,380.0 L463.8,382.5 L467.5,387.5 L465.0,395.0 L460.0,400.0 L456.2,401.2 L456.2,407.5 L452.5,410.0 L452.0,413.0"/>
<path d="M337.5,387.5 L336.2,396.2 L331.2,402.5 L327.5,408.8 L323.8,416.2 L317.5,423.8 L311.2,428.8 L305.0,433.8 L300.0,440.0 L297.5,446.2 L295.5,448.0"/>
<path d="M311.2,430.0 L320.0,429.5 L330.0,431.2 L340.0,433.8 L350.0,434.5 L353.8,440.0 L356.2,447.5 L360.0,453.8 L366.2,457.5 L372.5,459.5 L375.0,462.5"/>
<path d="M302.5,477.0 L312.5,478.8 L322.5,480.5 L332.5,482.5 L337.5,477.5 L347.5,475.0 L357.5,475.5 L365.0,476.2 L368.8,475.0"/>
<path d="M302.0,488.8 L310.0,489.5 L317.5,490.0 L325.0,492.5 L332.5,496.2 L340.0,502.5 L347.5,506.2 L353.8,507.5 L352.5,513.8 L348.8,516.2 L350.0,518.8"/>
<path d="M333.8,526.2 L335.0,530.0 L340.0,528.8 L343.8,530.0 L342.5,535.0 L337.5,540.0 L332.5,545.0 L326.2,550.0 L322.5,552.5 L321.2,550.0 L325.0,545.0 L330.0,540.0 L332.5,533.8 L333.8,526.2"/>
</g>
<g fill="none" stroke="#0a3c0a" stroke-width="1.5" stroke-linejoin="round" stroke-linecap="round" stroke-opacity="0.85">
<path d="M315.8,157.5 L321.7,155.8 L326.7,154.2 L331.7,150.0 L335.0,145.0 L338.3,141.7 L342.5,138.3 L345.8,135.0 L349.2,133.3"/>
<path d="M331.7,145.0 L335.0,141.7 L339.2,138.3"/>
<path d="M330.8,161.7 L336.7,162.5 L343.3,161.7 L350.0,160.8 L356.7,159.2 L363.3,157.5 L368.3,155.8"/>
<path d="M330.8,161.7 L331.7,165.8 L335.0,167.5"/>
<path d="M336.7,162.5 L337.5,166.7 L336.7,170.8"/>
<path d="M340.8,148.3 L340.0,155.0 L341.7,161.7"/>
<path d="M339.2,146.7 L342.5,147.5"/>
<path d="M356.7,159.2 L358.3,165.0 L357.5,170.0"/>
<path d="M363.3,157.5 L365.8,153.3 L368.3,150.0 L370.8,148.3"/>
<path d="M342.5,110.8 L345.8,112.5 L350.0,116.7 L351.7,121.7 L350.8,126.7 L349.2,130.8"/>
</g>
<path d="M159.5,82.5 L162.2,85.3 L168.0,86.1 L174.5,87.0 L179.4,87.8 L182.7,91.0 L185.1,89.4 L186.8,85.3 L192.5,84.5 L199.0,82.9 L205.6,79.6 L211.3,77.2 L213.7,73.9 L212.1,71.1 L217.0,70.1 L221.1,71.4 L221.9,76.3 L221.1,78.8 L225.2,81.2 L226.8,87.0 L226.0,91.0 L223.2,94.3 L221.9,100.8 L222.7,107.4 L225.2,112.3 L228.4,117.2 L234.2,121.3 L239.8,120.0 L247.2,116.2 L253.5,113.0 L261.0,112.5 L267.2,113.0 L272.2,111.2 L273.0,106.2 L279.8,105.8 L286.0,105.0 L289.0,107.0 L293.5,108.8 L298.5,108.0 L303.5,107.0 L308.5,108.2 L313.5,107.5 L317.2,102.5 L321.0,95.0 L326.0,88.8 L331.0,82.0 L334.0,83.8 L336.5,92.5 L339.0,102.5 L341.5,110.0 L347.8,113.8 L351.5,118.8 L351.0,126.2 L347.8,132.5 L352.8,134.5 L359.0,137.5 L367.8,140.5 L371.5,142.5 L375.2,147.0 L381.5,146.2 L387.8,147.5 L394.0,149.5 L400.2,152.5 L406.5,153.8 L411.5,156.2 L416.5,155.0 L420.2,160.0 L422.8,167.5 L419.0,177.0 L421.5,175.5 L425.2,171.2 L431.5,168.0 L439.0,170.0 L445.2,172.5 L451.5,174.5 L456.5,175.0 L464.0,175.0 L474.0,174.5 L481.5,175.0 L489.0,180.0 L497.8,185.0 L506.5,191.2 L512.8,198.8 L521.5,202.5 L531.5,203.8 L539.0,205.0 L542.8,212.5 L545.2,222.5 L546.5,232.5 L546.0,242.5 L542.8,250.0 L539.0,257.5 L531.5,267.5 L524.0,275.0 L517.8,280.0 L514.0,286.2 L509.0,293.8 L512.5,287.5 L506.2,297.5 L500.0,301.2 L497.5,300.0 L495.0,303.8 L496.2,306.2 L492.5,310.0 L491.2,313.8 L493.0,320.0 L492.0,330.0 L493.8,340.0 L492.5,350.0 L491.2,360.0 L490.0,367.5 L485.0,373.8 L483.8,382.5 L482.5,390.0 L478.8,396.2 L475.0,402.5 L470.0,408.8 L470.2,406.2 L466.5,412.5 L465.2,421.2 L460.2,426.2 L454.0,428.8 L451.5,433.8 L441.5,434.5 L432.8,435.0 L424.0,436.2 L419.0,438.8 L414.0,441.2 L409.0,446.2 L401.5,446.2 L395.2,448.8 L389.0,452.5 L382.8,457.5 L377.8,461.2 L374.0,465.0 L371.0,470.0 L369.0,476.2 L367.8,483.8 L368.8,485.0 L370.0,495.0 L366.2,502.5 L360.0,510.0 L353.8,516.2 L350.0,522.5 L347.5,528.8 L343.8,536.2 L338.8,542.5 L332.5,547.5 L325.0,552.5 L321.2,556.2 L317.5,563.8 L313.8,570.0 L308.0,573.8 L305.0,572.0 L306.2,567.5 L309.5,562.5 L305.0,558.8 L300.0,553.8 L295.0,548.8 L288.8,545.0 L282.5,541.2 L277.5,537.5 L273.8,538.8 L271.2,535.0 L265.0,530.0 L258.8,528.0 L252.5,528.0 L256.2,525.0 L262.5,518.8 L270.0,511.2 L276.2,503.8 L283.8,497.5 L290.0,492.5 L297.5,490.0 L302.0,487.5 L302.5,477.5 L303.0,485.0 L302.5,476.2 L298.8,470.0 L292.5,468.8 L292.0,462.5 L294.5,455.0 L295.0,447.5 L287.5,448.0 L281.2,446.2 L278.8,438.8 L276.2,431.2 L272.5,427.0 L265.0,425.0 L255.0,423.8 L248.0,422.5 L248.8,415.0 L248.0,405.0 L246.2,396.2 L247.5,387.5 L251.2,377.5 L252.5,370.0 L250.0,366.2 L246.2,361.2 L241.2,356.2 L241.2,349.5 L241.5,358.0 L241.0,349.2 L219.0,348.0 L218.5,338.0 L214.8,333.5 L218.0,330.5 L216.0,323.0 L213.5,315.5 L208.5,313.5 L201.0,312.5 L193.5,309.2 L186.0,305.5 L181.0,301.0 L171.8,300.5 L164.2,298.0 L158.0,293.0 L153.0,285.5 L151.8,275.5 L151.8,263.0 L145.5,265.5 L138.0,265.0 L133.0,266.8 L128.0,271.8 L121.8,275.0 L114.2,280.0 L108.0,281.0 L98.0,280.0 L84.2,279.2 L85.0,266.8 L83.5,260.5 L74.2,266.8 L65.0,266.8 L60.5,260.5 L51.0,258.8 L53.0,254.2 L48.0,248.0 L44.2,241.8 L40.5,235.5 L43.0,230.5 L44.2,226.8 L49.2,223.0 L50.5,218.0 L53.0,213.0 L56.8,205.0 L65.5,198.8 L79.2,195.0 L81.8,192.5 L88.0,192.0 L93.5,192.5 L95.5,180.0 L98.8,158.8 L97.5,146.2 L91.8,140.0 L91.8,130.8 L102.5,128.8 L102.5,125.0 L94.2,123.8 L94.2,115.5 L114.2,115.0 L115.5,112.5 L118.0,115.0 L121.8,114.5 L125.5,110.5 L128.0,112.5 L129.2,120.0 L133.0,122.5 L138.0,125.5 L144.2,128.0 L147.5,125.5 L150.5,128.8 L153.0,126.2 L154.1,125.4 L157.3,122.9 L163.1,120.5 L168.0,117.2 L169.6,113.1 L174.5,110.7 L177.8,109.0 L177.0,106.6 L169.6,106.1 L168.8,101.7 L166.3,96.0 L165.5,91.0 L161.4,86.1Z" fill="none" stroke="#3c5a3c" stroke-width="0.8" stroke-linejoin="round" stroke-opacity="0.85"/>
<rect x="27.5" y="60.3" width="529.2" height="529.5" fill="none" stroke="#111" stroke-width="1.5"/>
<line x1="24" y1="73.3" x2="27.5" y2="73.3" stroke="#555" stroke-width="0.8"/>
<text class="ax" x="0" y="0" font-size="16.5" text-anchor="end" transform="translate(21,78.9) scale(0.70,1)">5N</text>
<line x1="24" y1="137.9" x2="27.5" y2="137.9" stroke="#555" stroke-width="0.8"/>
<text class="ax" x="0" y="0" font-size="16.5" text-anchor="end" transform="translate(21,143.5) scale(0.70,1)">EQ</text>
<line x1="24" y1="202.5" x2="27.5" y2="202.5" stroke="#555" stroke-width="0.8"/>
<text class="ax" x="0" y="0" font-size="16.5" text-anchor="end" transform="translate(21,208.1) scale(0.70,1)">5S</text>
<line x1="24" y1="267.1" x2="27.5" y2="267.1" stroke="#555" stroke-width="0.8"/>
<text class="ax" x="0" y="0" font-size="16.5" text-anchor="end" transform="translate(21,272.7) scale(0.70,1)">10S</text>
<line x1="24" y1="331.7" x2="27.5" y2="331.7" stroke="#555" stroke-width="0.8"/>
<text class="ax" x="0" y="0" font-size="16.5" text-anchor="end" transform="translate(21,337.3) scale(0.70,1)">15S</text>
<line x1="24" y1="396.3" x2="27.5" y2="396.3" stroke="#555" stroke-width="0.8"/>
<text class="ax" x="0" y="0" font-size="16.5" text-anchor="end" transform="translate(21,401.9) scale(0.70,1)">20S</text>
<line x1="24" y1="460.9" x2="27.5" y2="460.9" stroke="#555" stroke-width="0.8"/>
<text class="ax" x="0" y="0" font-size="16.5" text-anchor="end" transform="translate(21,466.5) scale(0.70,1)">25S</text>
<line x1="24" y1="525.5" x2="27.5" y2="525.5" stroke="#555" stroke-width="0.8"/>
<text class="ax" x="0" y="0" font-size="16.5" text-anchor="end" transform="translate(21,531.1) scale(0.70,1)">30S</text>
<line x1="24" y1="590.1" x2="27.5" y2="590.1" stroke="#555" stroke-width="0.8"/>
<text class="ax" x="0" y="0" font-size="16.5" text-anchor="end" transform="translate(21,595.7) scale(0.70,1)">35S</text>
<line x1="27.5" y1="589.8" x2="27.5" y2="592.8" stroke="#555" stroke-width="0.8"/>
<text class="ax" x="0" y="0" font-size="16.5" text-anchor="middle" transform="translate(28.0,609.3) scale(0.70,1)">75W</text>
<line x1="91.9" y1="589.8" x2="91.9" y2="592.8" stroke="#555" stroke-width="0.8"/>
<text class="ax" x="0" y="0" font-size="16.5" text-anchor="middle" transform="translate(92.4,609.3) scale(0.70,1)">70W</text>
<line x1="156.3" y1="589.8" x2="156.3" y2="592.8" stroke="#555" stroke-width="0.8"/>
<text class="ax" x="0" y="0" font-size="16.5" text-anchor="middle" transform="translate(156.8,609.3) scale(0.70,1)">65W</text>
<line x1="220.7" y1="589.8" x2="220.7" y2="592.8" stroke="#555" stroke-width="0.8"/>
<text class="ax" x="0" y="0" font-size="16.5" text-anchor="middle" transform="translate(221.2,609.3) scale(0.70,1)">60W</text>
<line x1="285.1" y1="589.8" x2="285.1" y2="592.8" stroke="#555" stroke-width="0.8"/>
<text class="ax" x="0" y="0" font-size="16.5" text-anchor="middle" transform="translate(285.6,609.3) scale(0.70,1)">55W</text>
<line x1="349.5" y1="589.8" x2="349.5" y2="592.8" stroke="#555" stroke-width="0.8"/>
<text class="ax" x="0" y="0" font-size="16.5" text-anchor="middle" transform="translate(350.0,609.3) scale(0.70,1)">50W</text>
<line x1="413.9" y1="589.8" x2="413.9" y2="592.8" stroke="#555" stroke-width="0.8"/>
<text class="ax" x="0" y="0" font-size="16.5" text-anchor="middle" transform="translate(414.4,609.3) scale(0.70,1)">45W</text>
<line x1="478.3" y1="589.8" x2="478.3" y2="592.8" stroke="#555" stroke-width="0.8"/>
<text class="ax" x="0" y="0" font-size="16.5" text-anchor="middle" transform="translate(478.8,609.3) scale(0.70,1)">40W</text>
<line x1="542.7" y1="589.8" x2="542.7" y2="592.8" stroke="#555" stroke-width="0.8"/>
<text class="ax" x="0" y="0" font-size="16.5" text-anchor="middle" transform="translate(543.2,609.3) scale(0.70,1)">35W</text>
<text class="t" x="157.2" y="17.5" font-size="16.2" textLength="54.8" lengthAdjust="spacingAndGlyphs">NORMAL</text>
<text class="t" x="220.0" y="17.5" font-size="16.2" textLength="107.0" lengthAdjust="spacingAndGlyphs">CLIMATOLOGICA</text>
<text class="t" x="335.5" y="17.5" font-size="16.2" textLength="16.0" lengthAdjust="spacingAndGlyphs">DA</text>
<text class="t" x="360.0" y="17.5" font-size="16.2" textLength="97.0" lengthAdjust="spacingAndGlyphs">PRECIPITACAO</text>
<text class="t" x="168.0" y="35.3" font-size="16.2" textLength="76.0" lengthAdjust="spacingAndGlyphs">TRIMESTRE</text>
<text class="t" x="252.4" y="35.3" font-size="16.2" textLength="200.6" lengthAdjust="spacingAndGlyphs">JANEIRO−FEVEREIRO−MARCO</text>
<text class="t" x="172.6" y="53.3" font-size="16.2" textLength="58.4" lengthAdjust="spacingAndGlyphs">PERIODO</text>
<text class="t" x="240.5" y="53.3" font-size="16.2" textLength="17.0" lengthAdjust="spacingAndGlyphs">DE</text>
<text class="t" x="266.3" y="53.3" font-size="16.2" textLength="83.7" lengthAdjust="spacingAndGlyphs">REFERENCIA</text>
<text class="t" x="359.8" y="53.3" font-size="16.2" textLength="2.8" lengthAdjust="spacingAndGlyphs" style="font-weight:normal" stroke="#111" stroke-width="0.45">:</text>
<text class="t" x="372.6" y="53.3" font-size="16.2" textLength="76.5" lengthAdjust="spacingAndGlyphs" style="font-weight:normal" stroke="#111" stroke-width="0.45">1981−2010</text>
<path d="M567.0,102.3 L572.9,73.7 L578.8,102.3Z" fill="#086212" stroke="#1a1a1a" stroke-width="0.9"/>
<rect x="567.0" y="102.30" width="11.799999999999955" height="28.67" fill="#05840a" stroke="#1a1a1a" stroke-width="1.1"/>
<rect x="567.0" y="130.97" width="11.799999999999955" height="28.67" fill="#069709" stroke="#1a1a1a" stroke-width="1.1"/>
<rect x="567.0" y="159.64" width="11.799999999999955" height="28.67" fill="#0fbe1a" stroke="#1a1a1a" stroke-width="1.1"/>
<rect x="567.0" y="188.31" width="11.799999999999955" height="28.67" fill="#24cb2a" stroke="#1a1a1a" stroke-width="1.1"/>
<rect x="567.0" y="216.98" width="11.799999999999955" height="28.67" fill="#34da3e" stroke="#1a1a1a" stroke-width="1.1"/>
<rect x="567.0" y="245.65" width="11.799999999999955" height="28.67" fill="#68f870" stroke="#1a1a1a" stroke-width="1.1"/>
<rect x="567.0" y="274.32" width="11.799999999999955" height="28.67" fill="#a2faaa" stroke="#1a1a1a" stroke-width="1.1"/>
<rect x="567.0" y="302.99" width="11.799999999999955" height="28.67" fill="#c6fbe4" stroke="#1a1a1a" stroke-width="1.1"/>
<rect x="567.0" y="331.66" width="11.799999999999955" height="28.67" fill="#fff2b6" stroke="#1a1a1a" stroke-width="1.1"/>
<rect x="567.0" y="360.33" width="11.799999999999955" height="28.67" fill="#ffe272" stroke="#1a1a1a" stroke-width="1.1"/>
<rect x="567.0" y="389.00" width="11.799999999999955" height="28.67" fill="#ffc250" stroke="#1a1a1a" stroke-width="1.1"/>
<rect x="567.0" y="417.67" width="11.799999999999955" height="28.67" fill="#ff9e3a" stroke="#1a1a1a" stroke-width="1.1"/>
<rect x="567.0" y="446.34" width="11.799999999999955" height="28.67" fill="#ff8218" stroke="#1a1a1a" stroke-width="1.1"/>
<rect x="567.0" y="475.01" width="11.799999999999955" height="28.67" fill="#ff6408" stroke="#1a1a1a" stroke-width="1.1"/>
<rect x="567.0" y="503.68" width="11.799999999999955" height="28.67" fill="#f83c08" stroke="#1a1a1a" stroke-width="1.1"/>
<path d="M567.0,532.35 L572.9,559 L578.8,532.35Z" fill="#e01e08" stroke="#1a1a1a" stroke-width="0.9"/>
<text class="cb" font-size="14.4" stroke="#111" stroke-width="0.3" transform="translate(582.0,107.5) scale(0.76,1)">1200</text>
<text class="cb" font-size="14.4" stroke="#111" stroke-width="0.3" transform="translate(582.0,136.2) scale(0.76,1)">1100</text>
<text class="cb" font-size="14.4" stroke="#111" stroke-width="0.3" transform="translate(582.0,164.8) scale(0.76,1)">1000</text>
<text class="cb" font-size="14.4" stroke="#111" stroke-width="0.3" transform="translate(582.0,193.5) scale(0.76,1)">900</text>
<text class="cb" font-size="14.4" stroke="#111" stroke-width="0.3" transform="translate(582.0,222.2) scale(0.76,1)">800</text>
<text class="cb" font-size="14.4" stroke="#111" stroke-width="0.3" transform="translate(582.0,250.9) scale(0.76,1)">700</text>
<text class="cb" font-size="14.4" stroke="#111" stroke-width="0.3" transform="translate(582.0,279.5) scale(0.76,1)">600</text>
<text class="cb" font-size="14.4" stroke="#111" stroke-width="0.3" transform="translate(582.0,308.2) scale(0.76,1)">500</text>
<text class="cb" font-size="14.4" stroke="#111" stroke-width="0.3" transform="translate(582.0,336.9) scale(0.76,1)">400</text>
<text class="cb" font-size="14.4" stroke="#111" stroke-width="0.3" transform="translate(582.0,365.5) scale(0.76,1)">300</text>
<text class="cb" font-size="14.4" stroke="#111" stroke-width="0.3" transform="translate(582.0,394.2) scale(0.76,1)">200</text>
<text class="cb" font-size="14.4" stroke="#111" stroke-width="0.3" transform="translate(582.0,422.9) scale(0.76,1)">150</text>
<text class="cb" font-size="14.4" stroke="#111" stroke-width="0.3" transform="translate(582.0,451.5) scale(0.76,1)">100</text>
<text class="cb" font-size="14.4" stroke="#111" stroke-width="0.3" transform="translate(582.0,480.2) scale(0.76,1)">75</text>
<text class="cb" font-size="14.4" stroke="#111" stroke-width="0.3" transform="translate(582.0,508.9) scale(0.76,1)">50</text>
<text class="cb" font-size="14.4" stroke="#111" stroke-width="0.3" transform="translate(582.0,537.6) scale(0.76,1)">25</text>
<text class="ax" font-size="15" letter-spacing="4.5" transform="translate(618,318.5) rotate(-90) scale(1,0.85)" style="fill:#555">(mm)</text>
<g>
<rect x="509.2" y="62.8" width="45.2" height="56.8" rx="4.5" ry="4.5" fill="url(#lg)"/>
<g transform="translate(541.3,76.2)">
<polygon points="7.80,0.00 4.29,0.98 7.03,3.38 3.44,2.74 4.86,6.10 1.91,3.96 1.74,7.60 0.00,4.40 -1.74,7.60 -1.91,3.96 -4.86,6.10 -3.44,2.74 -7.03,3.38 -4.29,0.98 -7.80,0.00 -4.29,-0.98 -7.03,-3.38 -3.44,-2.74 -4.86,-6.10 -1.91,-3.96 -1.74,-7.60 -0.00,-4.40 1.74,-7.60 1.91,-3.96 4.86,-6.10 3.44,-2.74 7.03,-3.38 4.29,-0.98" fill="#d8b830"/>
<circle r="4.3" fill="#f6dc28"/>
</g>
<g fill="#fff"><ellipse cx="519" cy="82" rx="6.5" ry="5.5"/><ellipse cx="526" cy="78" rx="6" ry="5.5"/><ellipse cx="533.5" cy="80.5" rx="6" ry="5.5"/><ellipse cx="540.5" cy="84.5" rx="6.5" ry="4.8"/><ellipse cx="530" cy="85.5" rx="13" ry="4.6"/><ellipse cx="521" cy="86" rx="7" ry="4"/></g>
<path d="M516,84.5 q4,3 9,0.5 M528,86.5 q5,2.5 10,-0.5 M524,78.5 q2,-3 6,-2" fill="none" stroke="#b8c4e6" stroke-width="0.9"/>
<text x="532.3" y="100.8" font-size="9.3" font-weight="bold" text-anchor="middle" fill="#fff" textLength="30.5" lengthAdjust="spacingAndGlyphs" style="font-family:'Liberation Sans',sans-serif">INMET</text>
<text x="532.3" y="116.9" font-size="19" font-style="italic" text-anchor="middle" fill="#d2c88e" textLength="30" lengthAdjust="spacingAndGlyphs" style="font-family:'Liberation Serif',serif">100</text>
<text x="511.2" y="127.2" font-size="3.6" font-weight="bold" fill="#5a6088" textLength="41" lengthAdjust="spacing" style="font-family:'Liberation Sans',sans-serif">100 ANOS de</text>
<text x="511.2" y="132.6" font-size="3.6" font-weight="bold" fill="#5a6088" textLength="41" lengthAdjust="spacing" style="font-family:'Liberation Sans',sans-serif">Meteorologia</text>
<text x="511.2" y="138.6" font-size="3.6" font-weight="bold" fill="#5a6088" textLength="41" lengthAdjust="spacing" style="font-family:'Liberation Sans',sans-serif">1909 • 2009</text>
</g>
</svg></body></html>
